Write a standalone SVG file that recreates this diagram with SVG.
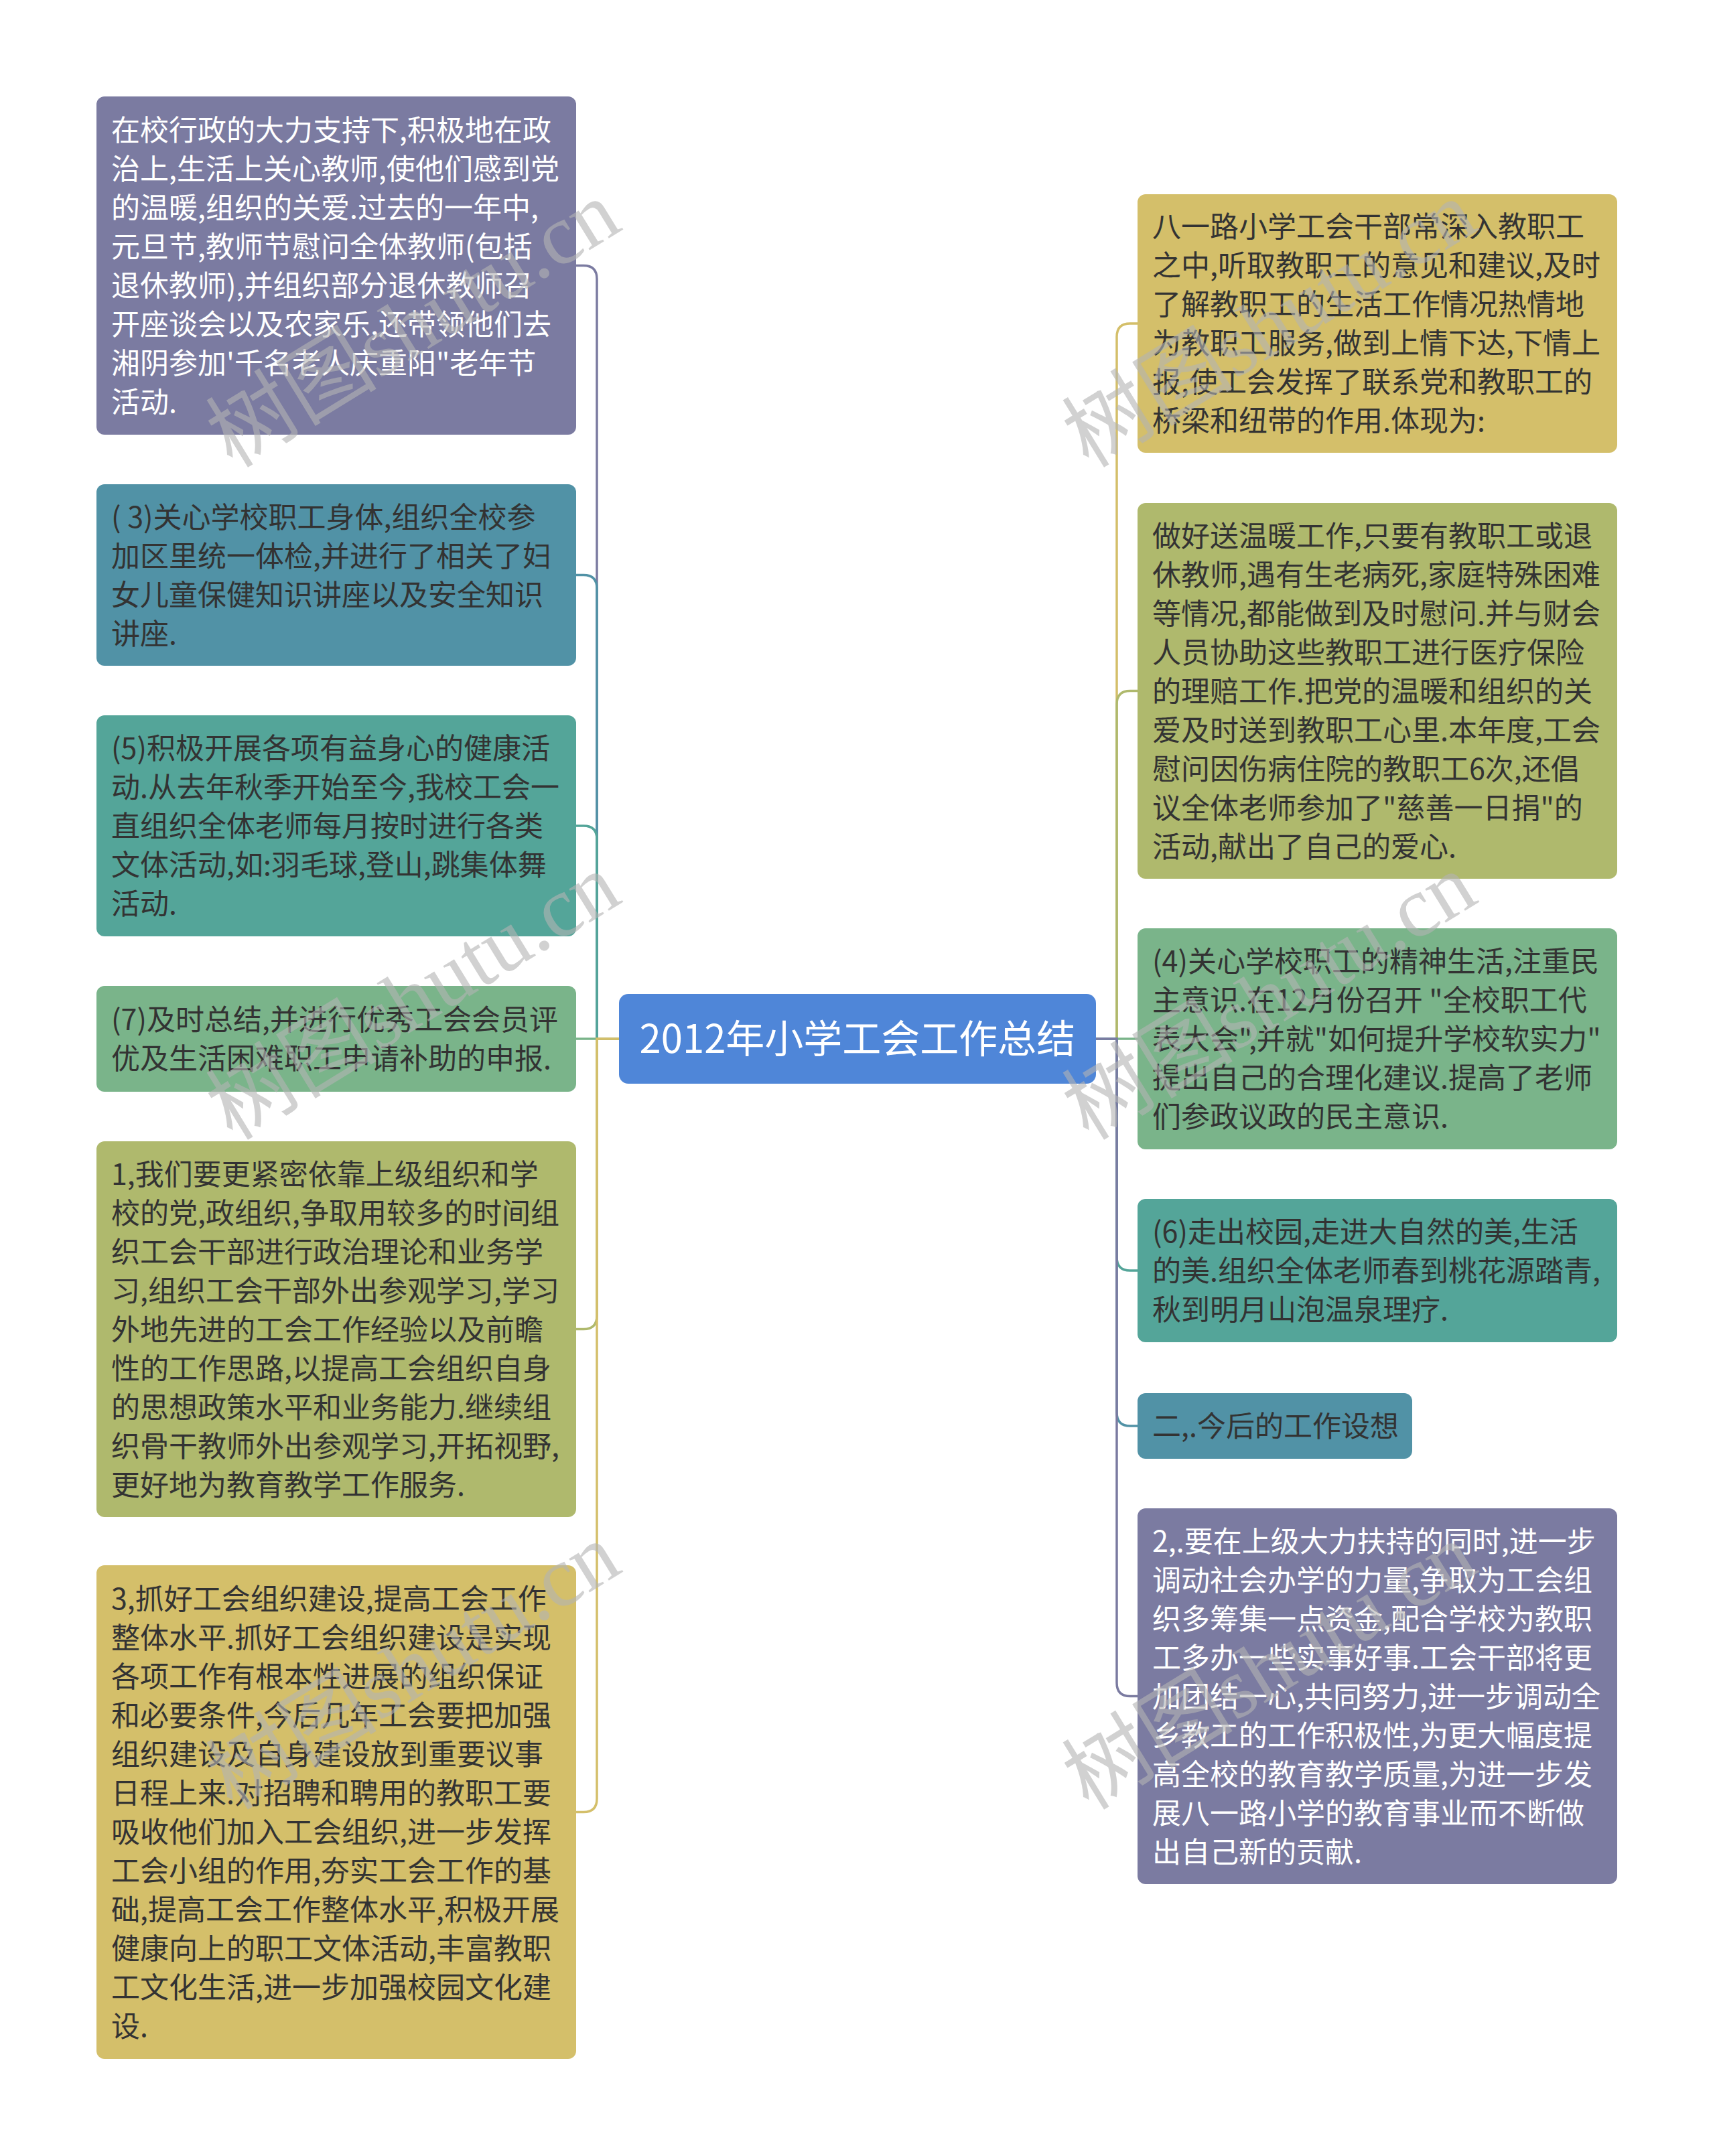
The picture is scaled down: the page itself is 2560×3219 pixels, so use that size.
<svg xmlns="http://www.w3.org/2000/svg" width="2560" height="3219" viewBox="0 0 2560 3219">
<style>
.bx{stroke:none}
.t{font-family:"Noto Sans CJK SC","Liberation Sans",sans-serif;font-size:43px;fill:#333333}
.w{fill:#ffffff}
.ct{font-family:"Noto Sans CJK SC","Liberation Sans",sans-serif;font-size:58px;fill:#ffffff}
.c{fill:none;stroke-width:3.5}
.wm{font-family:"Liberation Serif","Noto Sans CJK SC",serif;font-size:128px;fill:#b4b4b4;opacity:0.6}
</style>
<rect width="2560" height="3219" fill="#ffffff"/>
<g id="connectors">
<path class="c" stroke="#7b7ba1" d="M924,1551 H891 V416.5 Q891,396.5 871,396.5 H860"/>
<path class="c" stroke="#5192a6" d="M924,1551 H891 V878.5 Q891,858.5 871,858.5 H860"/>
<path class="c" stroke="#54a599" d="M924,1551 H891 V1253 Q891,1233 871,1233 H860"/>
<path class="c" stroke="#7ab48a" d="M924,1551 H860"/>
<path class="c" stroke="#afb96d" d="M924,1551 H891 V1964.5 Q891,1984.5 871,1984.5 H860"/>
<path class="c" stroke="#d4bf6a" d="M924,1551 H891 V2685.5 Q891,2705.5 871,2705.5 H860"/>
<path class="c" stroke="#d4bf6a" d="M1636,1551 H1667 V503 Q1667,483 1687,483 H1698"/>
<path class="c" stroke="#afb96d" d="M1636,1551 H1667 V1051.5 Q1667,1031.5 1687,1031.5 H1698"/>
<path class="c" stroke="#7ab48a" d="M1636,1551 H1698"/>
<path class="c" stroke="#54a599" d="M1636,1551 H1667 V1877 Q1667,1897 1687,1897 H1698"/>
<path class="c" stroke="#5192a6" d="M1636,1551 H1667 V2109 Q1667,2129 1687,2129 H1698"/>
<path class="c" stroke="#7b7ba1" d="M1636,1551 H1667 V2512.5 Q1667,2532.5 1687,2532.5 H1698"/>
</g>
<g id="center">
<rect class="bx" x="924" y="1484" width="712" height="134" rx="14" fill="#4f86d8"/>
<text class="ct" x="1280" y="1572" text-anchor="middle">2012年小学工会工作总结</text>
</g>
<g id="L1">
<rect class="bx" x="144" y="144" width="716" height="505" rx="12" fill="#7b7ba1"/>
<text class="t w" x="166" y="209.5"><tspan x="166">在校行政的大力支持下,积极地在政</tspan><tspan x="166" dy="58">治上,生活上关心教师,使他们感到党</tspan><tspan x="166" dy="58">的温暖,组织的关爱.过去的一年中,</tspan><tspan x="166" dy="58">元旦节,教师节慰问全体教师(包括</tspan><tspan x="166" dy="58">退休教师),并组织部分退休教师召</tspan><tspan x="166" dy="58">开座谈会以及农家乐,还带领他们去</tspan><tspan x="166" dy="58">湘阴参加'千名老人庆重阳"老年节</tspan><tspan x="166" dy="58">活动.</tspan></text>
</g>
<g id="L2">
<rect class="bx" x="144" y="723" width="716" height="271" rx="12" fill="#5192a6"/>
<text class="t" x="166" y="787.5"><tspan x="166">( 3)关心学校职工身体,组织全校参</tspan><tspan x="166" dy="58">加区里统一体检,并进行了相关了妇</tspan><tspan x="166" dy="58">女儿童保健知识讲座以及安全知识</tspan><tspan x="166" dy="58">讲座.</tspan></text>
</g>
<g id="L3">
<rect class="bx" x="144" y="1068" width="716" height="330" rx="12" fill="#54a599"/>
<text class="t" x="166" y="1133"><tspan x="166">(5)积极开展各项有益身心的健康活</tspan><tspan x="166" dy="58">动.从去年秋季开始至今,我校工会一</tspan><tspan x="166" dy="58">直组织全体老师每月按时进行各类</tspan><tspan x="166" dy="58">文体活动,如:羽毛球,登山,跳集体舞</tspan><tspan x="166" dy="58">活动.</tspan></text>
</g>
<g id="L4">
<rect class="bx" x="144" y="1472" width="716" height="158" rx="12" fill="#7ab48a"/>
<text class="t" x="166" y="1538"><tspan x="166">(7)及时总结,并进行优秀工会会员评</tspan><tspan x="166" dy="58">优及生活困难职工申请补助的申报.</tspan></text>
</g>
<g id="L5">
<rect class="bx" x="144" y="1704" width="716" height="561" rx="12" fill="#afb96d"/>
<text class="t" x="166" y="1768.5"><tspan x="166">1,我们要更紧密依靠上级组织和学</tspan><tspan x="166" dy="58">校的党,政组织,争取用较多的时间组</tspan><tspan x="166" dy="58">织工会干部进行政治理论和业务学</tspan><tspan x="166" dy="58">习,组织工会干部外出参观学习,学习</tspan><tspan x="166" dy="58">外地先进的工会工作经验以及前瞻</tspan><tspan x="166" dy="58">性的工作思路,以提高工会组织自身</tspan><tspan x="166" dy="58">的思想政策水平和业务能力.继续组</tspan><tspan x="166" dy="58">织骨干教师外出参观学习,开拓视野,</tspan><tspan x="166" dy="58">更好地为教育教学工作服务.</tspan></text>
</g>
<g id="L6">
<rect class="bx" x="144" y="2337" width="716" height="737" rx="12" fill="#d4bf6a"/>
<text class="t" x="166" y="2402.5"><tspan x="166">3,抓好工会组织建设,提高工会工作</tspan><tspan x="166" dy="58">整体水平.抓好工会组织建设是实现</tspan><tspan x="166" dy="58">各项工作有根本性进展的组织保证</tspan><tspan x="166" dy="58">和必要条件,今后几年工会要把加强</tspan><tspan x="166" dy="58">组织建设及自身建设放到重要议事</tspan><tspan x="166" dy="58">日程上来.对招聘和聘用的教职工要</tspan><tspan x="166" dy="58">吸收他们加入工会组织,进一步发挥</tspan><tspan x="166" dy="58">工会小组的作用,夯实工会工作的基</tspan><tspan x="166" dy="58">础,提高工会工作整体水平,积极开展</tspan><tspan x="166" dy="58">健康向上的职工文体活动,丰富教职</tspan><tspan x="166" dy="58">工文化生活,进一步加强校园文化建</tspan><tspan x="166" dy="58">设.</tspan></text>
</g>
<g id="R1">
<rect class="bx" x="1698" y="290" width="716" height="386" rx="12" fill="#d4bf6a"/>
<text class="t" x="1720" y="354"><tspan x="1720">八一路小学工会干部常深入教职工</tspan><tspan x="1720" dy="58">之中,听取教职工的意见和建议,及时</tspan><tspan x="1720" dy="58">了解教职工的生活工作情况热情地</tspan><tspan x="1720" dy="58">为教职工服务,做到上情下达,下情上</tspan><tspan x="1720" dy="58">报,使工会发挥了联系党和教职工的</tspan><tspan x="1720" dy="58">桥梁和纽带的作用.体现为:</tspan></text>
</g>
<g id="R2">
<rect class="bx" x="1698" y="751" width="716" height="561" rx="12" fill="#afb96d"/>
<text class="t" x="1720" y="815.5"><tspan x="1720">做好送温暖工作,只要有教职工或退</tspan><tspan x="1720" dy="58">休教师,遇有生老病死,家庭特殊困难</tspan><tspan x="1720" dy="58">等情况,都能做到及时慰问.并与财会</tspan><tspan x="1720" dy="58">人员协助这些教职工进行医疗保险</tspan><tspan x="1720" dy="58">的理赔工作.把党的温暖和组织的关</tspan><tspan x="1720" dy="58">爱及时送到教职工心里.本年度,工会</tspan><tspan x="1720" dy="58">慰问因伤病住院的教职工6次,还倡</tspan><tspan x="1720" dy="58">议全体老师参加了"慈善一日捐"的</tspan><tspan x="1720" dy="58">活动,献出了自己的爱心.</tspan></text>
</g>
<g id="R3">
<rect class="bx" x="1698" y="1386" width="716" height="330" rx="12" fill="#7ab48a"/>
<text class="t" x="1720" y="1451" xml:space="preserve"><tspan x="1720">(4)关心学校职工的精神生活,注重民</tspan><tspan x="1720" dy="58">主意识.在12月份召开 "全校职工代</tspan><tspan x="1720" dy="58">表大会",并就"如何提升学校软实力"</tspan><tspan x="1720" dy="58">提出自己的合理化建议.提高了老师</tspan><tspan x="1720" dy="58">们参政议政的民主意识.</tspan></text>
</g>
<g id="R4">
<rect class="bx" x="1698" y="1790" width="716" height="214" rx="12" fill="#54a599"/>
<text class="t" x="1720" y="1855"><tspan x="1720">(6)走出校园,走进大自然的美,生活</tspan><tspan x="1720" dy="58">的美.组织全体老师春到桃花源踏青,</tspan><tspan x="1720" dy="58">秋到明月山泡温泉理疗.</tspan></text>
</g>
<g id="R5">
<rect class="bx" x="1698" y="2080" width="410" height="98" rx="12" fill="#5192a6"/>
<text class="t" x="1720" y="2145">二,.今后的工作设想</text>
</g>
<g id="R6">
<rect class="bx" x="1698" y="2252" width="716" height="561" rx="12" fill="#7b7ba1"/>
<text class="t w" x="1720" y="2316.5"><tspan x="1720">2,.要在上级大力扶持的同时,进一步</tspan><tspan x="1720" dy="58">调动社会办学的力量,争取为工会组</tspan><tspan x="1720" dy="58">织多筹集一点资金,配合学校为教职</tspan><tspan x="1720" dy="58">工多办一些实事好事.工会干部将更</tspan><tspan x="1720" dy="58">加团结一心,共同努力,进一步调动全</tspan><tspan x="1720" dy="58">乡教工的工作积极性,为更大幅度提</tspan><tspan x="1720" dy="58">高全校的教育教学质量,为进一步发</tspan><tspan x="1720" dy="58">展八一路小学的教育事业而不断做</tspan><tspan x="1720" dy="58">出自己新的贡献.</tspan></text>
</g>
<g id="watermarks">
<text class="wm" transform="translate(347,700) rotate(-31.5)">树图shutu.cn</text>
<text class="wm" transform="translate(347,1704) rotate(-31.5)">树图shutu.cn</text>
<text class="wm" transform="translate(347,2704) rotate(-31.5)">树图shutu.cn</text>
<text class="wm" transform="translate(1625,700) rotate(-31.5)">树图shutu.cn</text>
<text class="wm" transform="translate(1625,1704) rotate(-31.5)">树图shutu.cn</text>
<text class="wm" transform="translate(1625,2704) rotate(-31.5)">树图shutu.cn</text>
</g>
</svg>
